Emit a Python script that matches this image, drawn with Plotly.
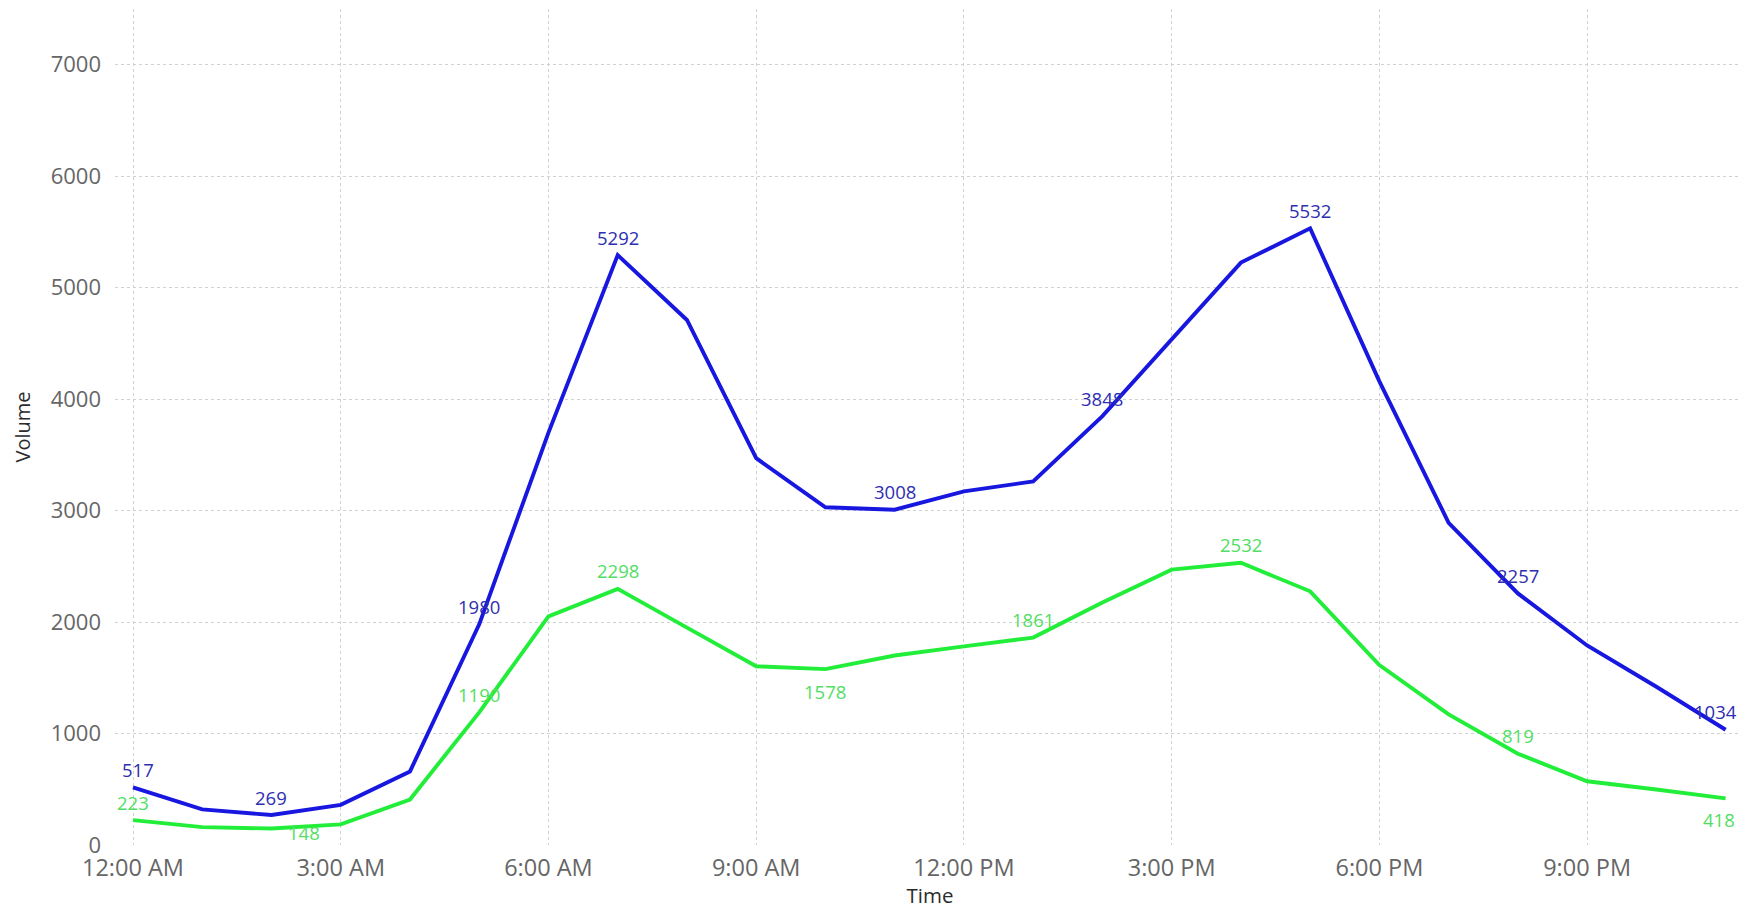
import plotly.graph_objects as go

hours = list(range(24))
blue_vals = [517, 320, 269, 360, 660, 1980, 3700, 5292, 4710, 3470, 3030, 3008,
             3172, 3262, 3848, 4540, 5225, 5532, 4160, 2890, 2257, 1790, 1420, 1034]
green_vals = [223, 160, 148, 185, 408, 1190, 2051, 2298, 1950, 1603, 1578, 1700,
              1782, 1861, 2175, 2470, 2532, 2276, 1615, 1172, 819, 572, 498, 418]
tick_vals = [0, 3, 6, 9, 12, 15, 18, 21]
tick_text = ["12:00 AM", "3:00 AM", "6:00 AM", "9:00 AM", "12:00 PM", "3:00 PM", "6:00 PM", "9:00 PM"]
y_ticks = [0, 1000, 2000, 3000, 4000, 5000, 6000, 7000]

blue_label_idx = [0, 2, 5, 7, 11, 14, 17, 20, 23]
green_label_idx = [0, 2, 5, 7, 10, 13, 16, 20, 23]

BLUE = "#1717E0"
GREEN = "#22EE3A"
BLUE_TXT = "#2E2EB0"
GREEN_TXT = "#52DE63"
FONT = "Open Sans"

fig = go.Figure()
fig.add_trace(go.Scatter(x=hours, y=blue_vals, mode="lines",
                         line=dict(color=BLUE, width=3.9), showlegend=False))
fig.add_trace(go.Scatter(x=hours, y=green_vals, mode="lines",
                         line=dict(color=GREEN, width=3.9), showlegend=False))

# label offsets in pixels (style only)
blue_shift = {0: (5, 18), 23: (-10, 18)}
green_shift = {2: (33, -4), 10: (0, -22), 23: (-7, -21)}

annotations = []
for i in blue_label_idx:
    xs, ys = blue_shift.get(i, (0, 18))
    annotations.append(dict(x=hours[i], y=blue_vals[i], text=str(blue_vals[i]),
                            showarrow=False, xshift=xs, yshift=ys,
                            font=dict(family=FONT, size=18.5, color=BLUE_TXT)))
for i in green_label_idx:
    xs, ys = green_shift.get(i, (0, 18))
    annotations.append(dict(x=hours[i], y=green_vals[i], text=str(green_vals[i]),
                            showarrow=False, xshift=xs, yshift=ys,
                            font=dict(family=FONT, size=18.5, color=GREEN_TXT)))

fig.update_layout(
    width=1741, height=901,
    margin=dict(l=107, r=4, t=1, b=64),
    plot_bgcolor="white", paper_bgcolor="white",
    annotations=annotations,
    xaxis=dict(range=[-0.26, 23.28], tickvals=tick_vals, ticktext=tick_text,
               showgrid=True, gridcolor="#d0d0d0", griddash="dot", gridwidth=1.2,
               zeroline=False, showline=False, ticks="", ticklabelstandoff=6,
               tickfont=dict(family=FONT, size=23.5, color="#666666"),
               title=dict(text="Time", font=dict(family=FONT, size=20.5, color="#2b2b2b"),
                          standoff=7)),
    yaxis=dict(range=[0, 7500], tickvals=y_ticks,
               showgrid=True, gridcolor="#d0d0d0", griddash="dot", gridwidth=1.2,
               zeroline=False, showline=False, ticks="", ticklabelstandoff=13,
               tickfont=dict(family=FONT, size=22, color="#666666"),
               title=dict(text="Volume", font=dict(family=FONT, size=20, color="#2b2b2b"),
                          standoff=14)),
)

fig.write_html("out.html")
